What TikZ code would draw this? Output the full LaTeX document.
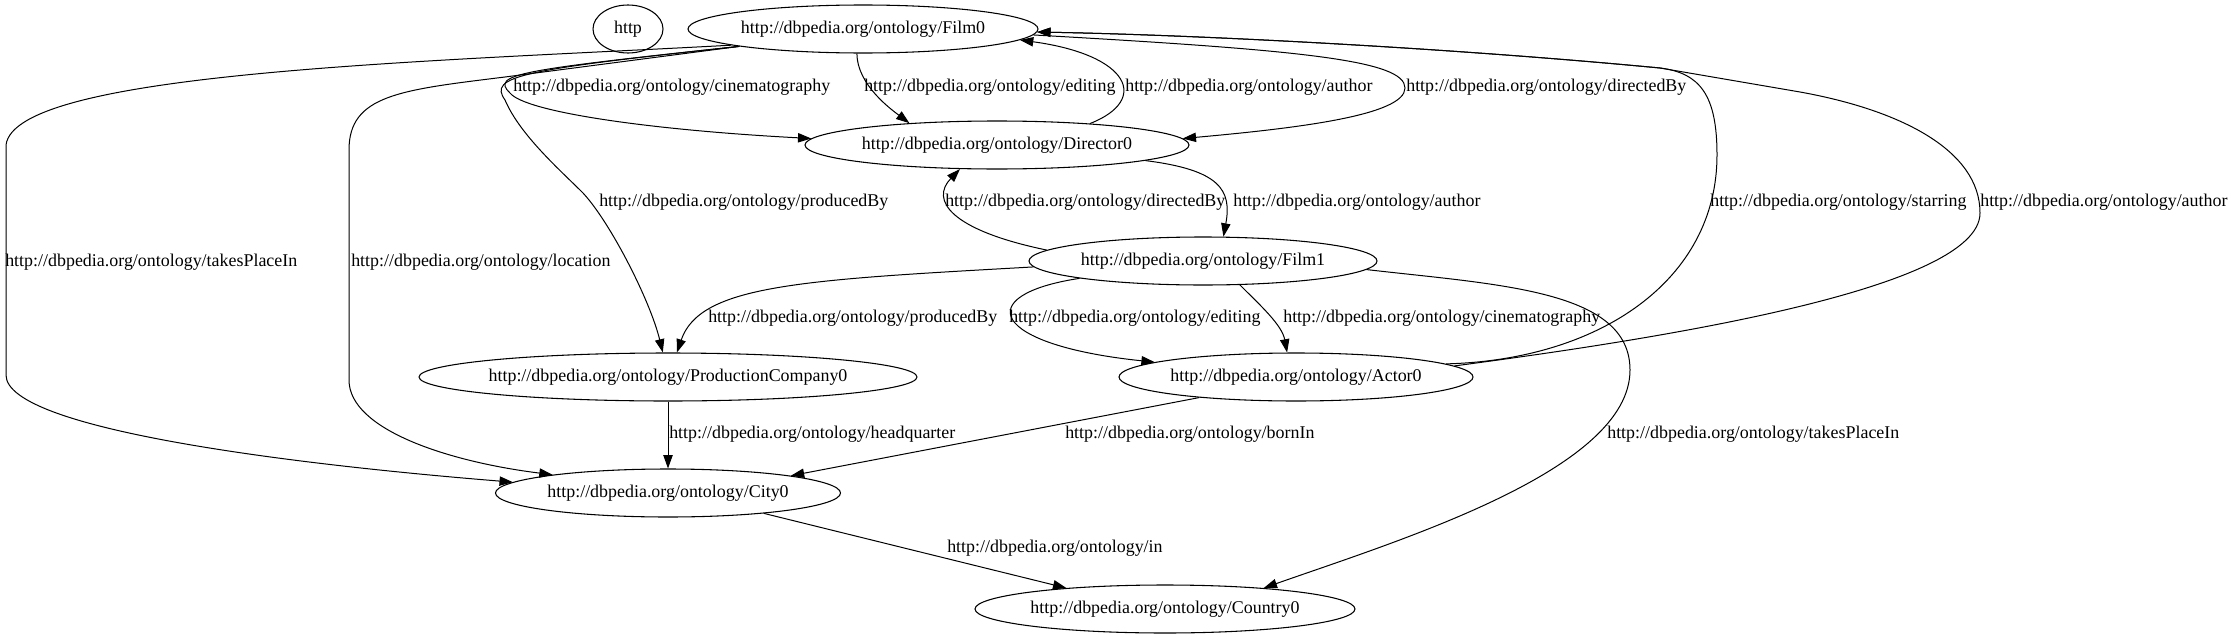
\documentclass[tikz,border=0pt]{standalone}
\usepackage{fontspec}
\setmainfont{Liberation Serif}
\usetikzlibrary{shapes.geometric,arrows.meta}
\begin{document}
\begin{tikzpicture}[x=0.75pt,y=-0.75pt,
  font=\fontsize{13.45}{16}\selectfont,
  vtx/.style={draw,ellipse,inner sep=0pt,minimum height=36pt,line width=0.8pt},
  edge/.style={draw,line width=0.75pt,-{Triangle[length=10pt,width=7pt]}},
  lbl/.style={anchor=west,inner sep=0pt}]
\useasboundingbox (0,0) rectangle (2233,639);
% nodes
\node[vtx,minimum width=52.5pt] (http) at (628,29) {\makebox[0pt]{http}};
\node[vtx,minimum width=262.5pt] (Film0) at (863,29) {\makebox[0pt]{http://dbpedia.org/ontology/Film0}};
\node[vtx,minimum width=288pt] (Director0) at (997,145) {\makebox[0pt]{http://dbpedia.org/ontology/Director0}};
\node[vtx,minimum width=261pt] (Film1) at (1203,261) {\makebox[0pt]{http://dbpedia.org/ontology/Film1}};
\node[vtx,minimum width=373.5pt] (ProdCo) at (668,377) {\makebox[0pt]{http://dbpedia.org/ontology/ProductionCompany0}};
\node[vtx,minimum width=265.5pt] (Actor0) at (1296,377) {\makebox[0pt]{http://dbpedia.org/ontology/Actor0}};
\node[vtx,minimum width=258.75pt] (City0) at (668,493) {\makebox[0pt]{http://dbpedia.org/ontology/City0}};
\node[vtx,minimum width=285pt] (Country0) at (1165,609) {\makebox[0pt]{http://dbpedia.org/ontology/Country0}};
% edges
\draw[edge] (Film0.187) .. controls (420,62) and (15,72) .. (6,145) -- (6,375) .. controls (6,430) and (300,465) .. (City0.176);
\draw[edge] (Film0.188) -- (505,77) .. controls (400,90) and (349,95) .. (349,150) -- (349,380) .. controls (349,430) and (450,462) .. (City0.171);
\draw[edge] (Film0.188) .. controls (520,70) and (490,74) .. (510,93) .. controls (525,112) and (650,130) .. (Director0.178);
\draw[edge] (Film0.188) .. controls (520,70) and (488,76) .. (505,100) .. controls (520,135) and (560,170) .. (583,193) .. controls (610,222) and (650,300) .. (ProdCo.102);
\draw[edge] (Film0.256) .. controls (857,85) and (892,110) .. (Director0.166);
\draw[edge] (Director0.13) .. controls (1150,100) and (1130,55) .. (Film0.-4);
\draw[edge] (Film0.-2) .. controls (1300,50) and (1405,60) .. (1405,88) .. controls (1405,115) and (1300,128) .. (Director0.2);
\draw[edge] (Actor0.5) .. controls (1600,360) and (1717,280) .. (1717,155) .. controls (1717,95) and (1700,73) .. (1660,68) .. controls (1450,48) and (1200,35) .. (Film0.-1);
\draw[edge] (Actor0.4) .. controls (1650,340) and (1980,290) .. (1980,213) .. controls (1980,150) and (1900,110) .. (1800,92) -- (1660,68) .. controls (1450,48) and (1200,35) .. (Film0.-1);
\draw[edge] (Director0.-6) .. controls (1220,170) and (1232,190) .. (Film1.50);
\draw[edge] (Film1.176) .. controls (950,230) and (930,200) .. (Director0.213);
\draw[edge] (Film1.182) .. controls (800,280) and (700,285) .. (ProdCo.70);
\draw[edge] (Film1.188) .. controls (970,295) and (990,345) .. (Actor0.174);
\draw[edge] (Film1.-33) .. controls (1260,305) and (1282,325) .. (Actor0.110);
\draw[edge] (Film1.-3) .. controls (1500,285) and (1630,290) .. (1630,370) .. controls (1630,470) and (1400,540) .. (Country0.12);
\draw[edge] (ProdCo) -- (City0);
\draw[edge] (Actor0.192) -- (City0.8);
\draw[edge] (City0.-12) -- (Country0.168);
% labels
\node[lbl] (l1) at (5,262) {http://dbpedia.org/ontology/takesPlaceIn};
\node[lbl] (l2) at (351,262) {http://dbpedia.org/ontology/location};
\node[lbl] (l3) at (513,87) {http://dbpedia.org/ontology/cinematography};
\node[lbl] (l4) at (599,202) {http://dbpedia.org/ontology/producedBy};
\node[lbl] (l5) at (864,87) {http://dbpedia.org/ontology/editing};
\node[lbl] (l6) at (1125,87) {http://dbpedia.org/ontology/author};
\node[lbl] (l7) at (1406,87) {http://dbpedia.org/ontology/directedBy};
\node[lbl] (l8) at (945,202) {http://dbpedia.org/ontology/directedBy};
\node[lbl] (l9) at (1233,202) {http://dbpedia.org/ontology/author};
\node[lbl] (l10) at (1710,202) {http://dbpedia.org/ontology/starring};
\node[lbl] (l11) at (1980,202) {http://dbpedia.org/ontology/author};
\node[lbl] (l12) at (708,318) {http://dbpedia.org/ontology/producedBy};
\node[lbl] (l13) at (1009,318) {http://dbpedia.org/ontology/editing};
\node[lbl] (l14) at (1283,318) {http://dbpedia.org/ontology/cinematography};
\node[lbl] (l15) at (1607,434) {http://dbpedia.org/ontology/takesPlaceIn};
\node[lbl] (l16) at (669,434) {http://dbpedia.org/ontology/headquarter};
\node[lbl] (l17) at (1065,434) {http://dbpedia.org/ontology/bornIn};
\node[lbl] (l18) at (947,548) {http://dbpedia.org/ontology/in};
\end{tikzpicture}
\end{document}
